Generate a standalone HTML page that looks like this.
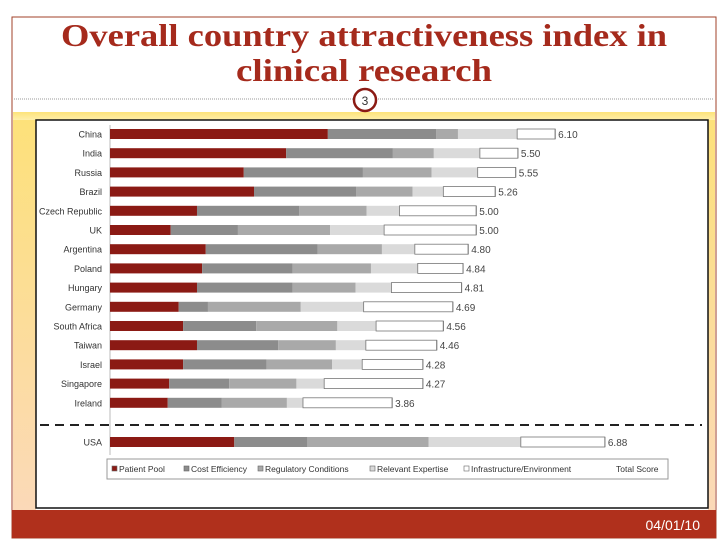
<!DOCTYPE html>
<html><head><meta charset="utf-8"><style>
body{margin:0;width:728px;height:546px;background:#fff;overflow:hidden;font-family:"Liberation Sans",sans-serif}
</style></head><body>
<svg width="728" height="546" viewBox="0 0 728 546" xmlns="http://www.w3.org/2000/svg">
<defs>
<linearGradient id="side" x1="0" y1="0" x2="0" y2="1"><stop offset="0" stop-color="#fde17a"/><stop offset="1" stop-color="#fbd9b8"/></linearGradient>
<linearGradient id="band" x1="0" y1="0" x2="0" y2="1"><stop offset="0" stop-color="#fde37a"/><stop offset="1" stop-color="#fef0b0"/></linearGradient>
</defs>
<rect x="12" y="17" width="704" height="521" fill="none" stroke="#a0402a" stroke-width="1"/>
<text x="61" y="46" textLength="606" lengthAdjust="spacingAndGlyphs" font-family="Liberation Serif,serif" font-weight="bold" font-size="32" fill="#a52a1c">Overall country  attractiveness index in</text>
<text x="236" y="81" textLength="256" lengthAdjust="spacingAndGlyphs" font-family="Liberation Serif,serif" font-weight="bold" font-size="32" fill="#a52a1c">clinical research</text>
<line x1="14" y1="99" x2="714" y2="99" stroke="#999" stroke-dasharray="1,1"/>
<rect x="13" y="112" width="702" height="9" fill="url(#band)"/>
<rect x="13" y="120" width="23" height="390" fill="url(#side)"/>
<rect x="708" y="120" width="7" height="390" fill="url(#side)"/>
<circle cx="365" cy="100" r="11" fill="#fff" stroke="#8b1a14" stroke-width="2.5"/>
<text x="365" y="105" text-anchor="middle" font-size="12" fill="#333">3</text>
<rect x="36" y="120" width="672" height="388" fill="#fff" stroke="#111" stroke-width="1.5"/>
<g id="chart"></g>
<rect x="12" y="510" width="704" height="28" fill="#b0301c"/>
<text x="700" y="530" text-anchor="end" font-size="14" fill="#fff">04/01/10</text>
</svg>
<script>
const countries=["China","India","Russia","Brazil","Czech Republic","UK","Argentina","Poland","Hungary","Germany","South Africa","Taiwan","Israel","Singapore","Ireland","USA"];
const patientPool=[2.98,2.41,1.83,1.97,1.19,0.83,1.31,1.26,1.19,0.94,1.00,1.19,1.00,0.81,0.79,1.70];
const costEfficiency=[1.48,1.46,1.63,1.40,1.40,0.92,1.53,1.24,1.31,0.40,1.00,1.11,1.14,0.82,0.74,1.00];
const regulatory=[0.30,0.56,0.94,0.77,0.92,1.26,0.88,1.07,0.86,1.27,1.11,0.79,0.90,0.92,0.89,1.66];
const expertise=[0.81,0.63,0.63,0.42,0.45,0.74,0.45,0.64,0.49,0.86,0.53,0.41,0.41,0.38,0.22,1.26];
const infrastructure=[0.52,0.52,0.52,0.71,1.05,1.26,0.73,0.62,0.96,1.22,0.92,0.97,0.83,1.35,1.22,1.15];
const totalLabels=["6.10","5.50","5.55","5.26","5.00","5.00","4.80","4.84","4.81","4.69","4.56","4.46","4.28","4.27","3.86","6.88"];
const seriesNames=["Patient Pool","Cost Efficiency","Regulatory Conditions","Relevant Expertise","Infrastructure/Environment"];

const NS="http://www.w3.org/2000/svg";
const g=document.getElementById('chart');
const x0=110, pxPer=73.1;
const xs=v=>x0+v*pxPer;
const ys=i=>i<15?134+i*19.2:442;
const colors=["#8b1a14","#8c8c8c","#a9a9a9","#dadada","#ffffff"];
const series=[patientPool,costEfficiency,regulatory,expertise,infrastructure];
function mk(t,a){const e=document.createElementNS(NS,t);for(const k in a)e.setAttribute(k,a[k]);g.appendChild(e);return e;}
const ax=mk('line',{x1:x0,y1:125,x2:x0,y2:455,stroke:'#bbb'});


countries.forEach((c,i)=>{
  const y=ys(i);
  const lb=mk('text',{x:102,y:y+3.5,'text-anchor':'end','font-size':9,fill:'#333'});
  lb.textContent=c;
  
  
  let acc=0;
  series.forEach((s,k)=>{
    const r=mk('rect',{x:xs(acc),y:y-5,width:s[i]*pxPer,height:10,fill:colors[k],stroke:k==4?'#777':'none','stroke-width':0.8});
    
    
    acc+=s[i];
  });
  const sep=mk('line',{x1:xs(acc),y1:y-5,x2:xs(acc),y2:y+5,stroke:'#777'});
  
  
  const tl=mk('text',{x:xs(acc)+3,y:y+4,'font-size':10,fill:'#444'});
  tl.textContent=totalLabels[i];
  
  
});
const dl=mk('line',{x1:40,y1:425,x2:702,y2:425,stroke:'#222','stroke-width':2,'stroke-dasharray':'9,6'});


const lg=mk('rect',{x:107,y:459,width:561,height:20,fill:'#fff',stroke:'#999'});


const lx=[112,184,258,370,464];
seriesNames.forEach((n,k)=>{
  const m=mk('rect',{x:lx[k],y:466,width:5,height:5,fill:colors[k],stroke:'#666','stroke-width':0.6});
  
  
  const t=mk('text',{x:lx[k]+7,y:472,'font-size':8.5,fill:'#333'});
  t.textContent=n;
  
  
});
const ts=mk('text',{x:616,y:472,'font-size':8.5,fill:'#333'});
ts.textContent='Total Score';


</script>
</body></html>
